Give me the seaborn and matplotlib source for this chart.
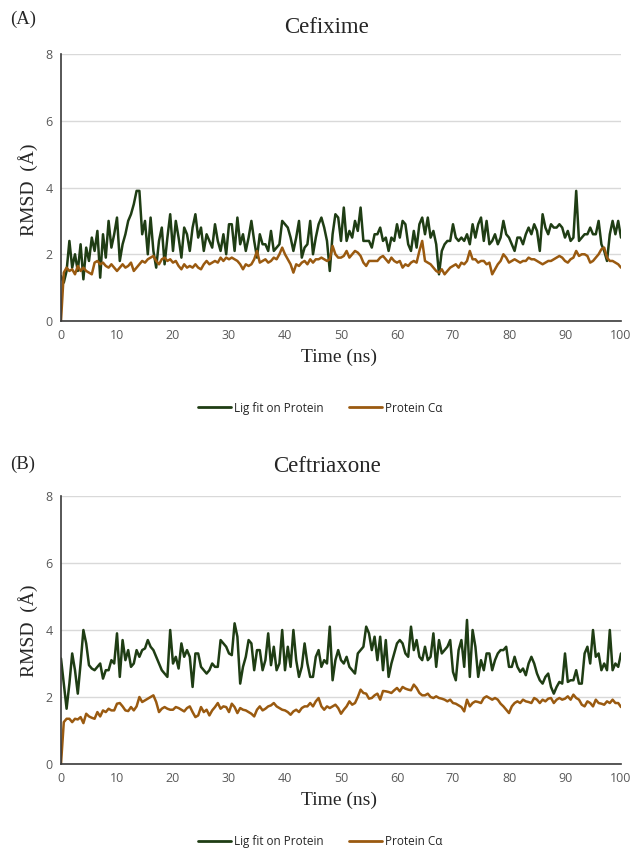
import numpy as np
import pandas as pd
import matplotlib
matplotlib.use("Agg")
import matplotlib.pyplot as plt
import seaborn as sns

# time axis: one sample every 0.5 ns
time_ns = np.arange(0, 100.5, 0.5)

# (A) Cefixime
cefixime_lig = [
    1.35, 1.15, 1.5, 2.4, 1.6, 2.0, 1.5, 2.3, 1.25, 2.2,
    1.8, 2.5, 2.1, 2.7, 1.3, 2.6, 1.9, 3.0, 2.2, 2.6,
    3.1, 1.8, 2.3, 2.6, 3.0, 3.2, 3.5, 3.9, 3.9, 2.6,
    3.0, 2.0, 3.1, 2.1, 1.6, 2.4, 2.8, 1.7, 2.5, 3.2,
    2.1, 3.0, 2.5, 1.9, 2.8, 2.6, 2.1, 2.8, 3.2, 2.5,
    2.8, 2.1, 2.6, 2.4, 2.2, 2.9, 2.4, 2.1, 2.6, 2.0,
    2.9, 2.9, 2.1, 3.1, 2.3, 2.6, 2.1, 2.5, 3.0, 2.4,
    1.9, 2.6, 2.3, 2.3, 2.1, 2.7, 2.1, 2.2, 2.3, 3.0,
    2.9, 2.8, 2.5, 2.1, 2.5, 3.0, 1.9, 2.2, 2.3, 3.0,
    2.0, 2.5, 2.9, 3.1, 2.8, 2.4, 1.5, 2.6, 3.2, 3.1,
    2.4, 3.4, 2.4, 2.7, 2.5, 3.0, 2.7, 3.4, 2.4, 2.4,
    2.4, 2.2, 2.6, 2.6, 2.8, 2.4, 2.5, 2.1, 2.5, 2.4,
    2.9, 2.5, 3.0, 2.9, 2.3, 2.1, 2.7, 2.2, 2.9, 3.1,
    2.6, 3.1, 2.5, 2.7, 2.3, 1.4, 2.1, 2.3, 2.4, 2.4,
    2.9, 2.5, 2.4, 2.5, 2.4, 2.6, 2.3, 2.9, 2.5, 2.9,
    3.1, 2.4, 3.0, 2.3, 2.4, 2.6, 2.3, 2.5, 3.0, 2.6,
    2.5, 2.3, 2.1, 2.5, 2.5, 2.3, 2.6, 2.8, 2.6, 2.9,
    2.7, 2.1, 3.2, 2.8, 2.6, 2.9, 2.8, 2.8, 2.9, 2.8,
    2.5, 2.7, 2.4, 2.5, 3.9, 2.4, 2.5, 2.6, 2.6, 2.8,
    2.6, 2.6, 3.0, 2.3, 2.1, 1.8, 2.6, 3.0, 2.6, 3.0,
    2.5,
]
cefixime_ca = [
    0.0, 1.45, 1.6, 1.5, 1.55, 1.4, 1.65, 1.5, 1.6, 1.5,
    1.45, 1.4, 1.75, 1.8, 1.7, 1.75, 1.65, 1.6, 1.7, 1.6,
    1.5, 1.6, 1.7, 1.6, 1.65, 1.75, 1.5, 1.6, 1.7, 1.8,
    1.75, 1.85, 1.9, 1.95, 1.8, 1.7, 1.85, 1.9, 1.8, 1.85,
    1.75, 1.8, 1.65, 1.55, 1.7, 1.6, 1.65, 1.6, 1.7, 1.6,
    1.55, 1.7, 1.8, 1.7, 1.75, 1.8, 1.75, 1.9, 1.8, 1.9,
    1.85, 1.9, 1.85, 1.8, 1.7, 1.55, 1.7, 1.65, 1.7, 1.85,
    2.1, 1.75, 1.8, 1.85, 1.75, 1.8, 1.9, 1.85, 2.0, 2.2,
    2.0, 1.85, 1.7, 1.45, 1.7, 1.65, 1.75, 1.8, 1.7, 1.85,
    1.75, 1.85, 1.85, 1.9, 1.85, 1.8, 1.85, 2.25, 2.0, 1.9,
    1.9, 1.95, 2.1, 1.9, 2.0, 2.1, 2.05, 1.95, 1.75, 1.65,
    1.8, 1.8, 1.8, 1.8, 1.9, 1.95, 1.85, 1.75, 1.9, 1.8,
    1.75, 1.8, 1.6, 1.7, 1.65, 1.75, 1.8, 1.75, 2.1, 2.4,
    1.8, 1.75, 1.7, 1.6, 1.5, 1.45, 1.55, 1.4, 1.5, 1.6,
    1.65, 1.7, 1.6, 1.75, 1.7, 1.8, 2.1, 1.85, 1.85, 1.75,
    1.8, 1.8, 1.7, 1.75, 1.4, 1.55, 1.7, 1.8, 2.0, 1.9,
    1.75, 1.8, 1.85, 1.8, 1.75, 1.8, 1.8, 1.9, 1.85, 1.85,
    1.8, 1.75, 1.7, 1.75, 1.8, 1.8, 1.85, 1.9, 1.95, 1.9,
    1.8, 1.75, 1.85, 1.9, 2.1, 1.95, 2.0, 2.0, 1.95, 1.75,
    1.8, 1.9, 2.0, 2.15, 2.2, 1.9, 1.8, 1.8, 1.75, 1.7,
    1.6,
]

# (B) Ceftriaxone
ceftriaxone_lig = [
    3.15, 2.4, 1.65, 2.4, 3.3, 2.8, 2.1, 3.0, 4.0, 3.6,
    2.95, 2.85, 2.8, 2.9, 3.0, 2.55, 2.8, 2.8, 3.1, 3.0,
    3.9, 2.6, 3.7, 3.1, 3.4, 2.9, 3.0, 3.4, 3.2, 3.4,
    3.45, 3.7, 3.5, 3.4, 3.2, 3.0, 2.8, 2.7, 2.6, 4.0,
    3.0, 3.2, 2.85, 3.6, 3.2, 3.4, 3.2, 2.3, 3.3, 3.3,
    2.9, 2.8, 2.7, 2.8, 3.0, 2.9, 2.9, 3.7, 3.6, 3.5,
    3.3, 3.25, 4.2, 3.8, 2.4, 2.9, 3.2, 3.7, 3.6, 2.8,
    3.4, 3.4, 2.8, 3.1, 3.9, 2.95, 3.5, 2.8, 3.0, 4.0,
    2.8, 3.5, 2.9, 4.0, 3.1, 2.6, 2.9, 3.6, 3.0, 2.6,
    2.6, 3.2, 3.4, 2.9, 3.1, 3.0, 4.1, 2.5, 3.1, 3.4,
    3.1, 3.0, 3.2, 2.9, 2.8, 2.7, 3.3, 3.4, 3.5, 4.1,
    3.9, 3.4, 3.8, 3.1, 3.8, 2.8, 3.7, 2.6, 3.0, 3.3,
    3.6, 3.7, 3.6, 3.3, 3.2, 4.1, 3.4, 3.7, 3.2, 3.1,
    3.5, 3.1, 3.2, 3.9, 2.9, 3.7, 3.3, 3.4, 3.5, 3.7,
    2.75, 2.5, 3.4, 3.7, 2.9, 4.3, 2.6, 4.0, 3.5, 2.6,
    3.1, 2.8, 3.3, 3.3, 2.8, 3.1, 3.3, 3.4, 3.4, 3.5,
    2.9, 2.9, 3.2, 2.9, 2.75, 2.85, 2.65, 3.0, 3.2, 3.0,
    2.7, 2.5, 2.4, 2.6, 2.7, 2.3, 2.1, 2.3, 2.45, 2.4,
    3.3, 2.45, 2.5, 2.5, 2.8, 2.4, 2.4, 3.3, 3.5, 3.0,
    4.0, 3.2, 3.3, 2.8, 3.0, 2.8, 4.0, 2.8, 3.0, 2.9,
    3.3,
]
ceftriaxone_ca = [
    0.0, 1.25, 1.35, 1.35, 1.25, 1.35, 1.33, 1.4, 1.22, 1.5,
    1.42, 1.38, 1.35, 1.55, 1.42, 1.6, 1.55, 1.65, 1.6, 1.6,
    1.8, 1.82, 1.72, 1.6, 1.58, 1.7, 1.6, 1.72, 2.0, 1.85,
    1.9, 1.95, 2.0, 2.05, 1.85, 1.55, 1.65, 1.7, 1.65, 1.62,
    1.62, 1.7, 1.67, 1.62, 1.57, 1.67, 1.72, 1.55, 1.4, 1.45,
    1.7, 1.55, 1.62, 1.45, 1.6, 1.7, 1.82, 1.65, 1.72, 1.7,
    1.55, 1.8, 1.7, 1.52, 1.67, 1.62, 1.6, 1.55, 1.5, 1.42,
    1.62, 1.72, 1.6, 1.65, 1.72, 1.75, 1.82, 1.72, 1.67, 1.62,
    1.6, 1.55, 1.47, 1.57, 1.62, 1.55, 1.67, 1.72, 1.72, 1.82,
    1.72, 1.87, 1.97, 1.72, 1.62, 1.72, 1.67, 1.72, 1.77, 1.67,
    1.5, 1.62, 1.72, 1.87, 1.77, 1.82, 2.0, 2.22, 2.12, 2.1,
    1.95, 1.97, 2.05, 2.1, 1.92, 2.18, 2.17, 2.15, 2.12, 2.2,
    2.27, 2.17, 2.3, 2.25, 2.22, 2.2, 2.37, 2.27, 2.12, 2.05,
    2.05, 2.1, 2.0, 1.97, 2.02, 1.97, 1.95, 1.92, 1.87, 1.92,
    1.82, 1.8, 1.75, 1.7, 1.57, 1.92, 1.72, 1.82, 1.87, 1.85,
    1.82, 1.97, 2.02, 1.97, 1.92, 1.97, 1.92, 1.8, 1.72, 1.62,
    1.52, 1.72, 1.82, 1.87, 1.82, 1.92, 1.87, 1.85, 1.82, 1.97,
    1.92, 1.82, 1.92, 1.87, 1.95, 1.97, 1.82, 1.92, 1.97, 1.92,
    1.95, 2.02, 1.92, 2.07, 1.97, 1.92, 1.77, 1.72, 1.87, 1.82,
    1.72, 1.92, 1.82, 1.8, 1.77, 1.87, 1.82, 1.92, 1.82, 1.82,
    1.7,
]

panels = [
    ("(A)", "Cefixime", cefixime_lig, cefixime_ca),
    ("(B)", "Ceftriaxone", ceftriaxone_lig, ceftriaxone_ca),
]
series_names = ["Lig fit on Protein", "Protein C\u03b1"]
colors = {"Lig fit on Protein": "#1f3d14", "Protein C\u03b1": "#9a5a10"}

sns.set_style("white")
plt.rcParams["font.family"] = ["Liberation Serif", "DejaVu Serif"]
tick_font = ["Open Sans", "DejaVu Sans"]

fig = plt.figure(figsize=(6.34, 8.52), dpi=100)

# axes boxes in figure fractions (left, bottom, width, height)
boxes = [
    (0.0962, 0.6232, 0.8833, 0.3134),
    (0.0962, 0.1033, 0.8833, 0.3145),
]
label_y = [(0.977, 0.968, 0.777, 0.580, 0.521),
           (0.455, 0.452, 0.260, 0.061, 0.012)]

for (tag, title, lig, ca), box, ly in zip(panels, boxes, label_y):
    ax = fig.add_axes(box)
    df = pd.DataFrame({
        "Time": np.concatenate([time_ns, time_ns]),
        "RMSD": np.concatenate([lig, ca]),
        "Series": [series_names[0]] * len(time_ns) + [series_names[1]] * len(time_ns),
    })
    sns.lineplot(data=df, x="Time", y="RMSD", hue="Series", palette=colors,
                 hue_order=series_names, linewidth=1.8, ax=ax, legend=False)

    ax.set_xlim(0, 100)
    ax.set_ylim(0, 8)
    ax.set_xticks(range(0, 101, 10))
    ax.set_yticks(range(0, 9, 2))
    ax.yaxis.grid(True, color="#d9d9d9", linewidth=1.0)
    ax.set_axisbelow(True)
    for s in ["top", "right"]:
        ax.spines[s].set_visible(False)
    ax.spines["left"].set_color("#3a3a3a")
    ax.spines["bottom"].set_color("#3a3a3a")
    ax.spines["left"].set_linewidth(1.2)
    ax.spines["bottom"].set_linewidth(1.2)
    ax.tick_params(length=0, labelsize=9, labelcolor="#595959", pad=6)
    for lab in ax.get_xticklabels() + ax.get_yticklabels():
        lab.set_family(tick_font)
    ax.set_xlabel("")
    ax.set_ylabel("")

    fig.text(0.016, ly[0], tag, fontsize=13.5, ha="left", va="center")
    fig.text(0.515, ly[1], title, fontsize=16.5, ha="center", va="center")
    fig.text(0.044, ly[2], "RMSD  (\u00c5)", fontsize=14, rotation=90,
             ha="center", va="center")
    fig.text(0.535, ly[3], "Time (ns)", fontsize=14, ha="center", va="center")

    handles = [plt.Line2D([], [], color=colors[n], linewidth=2) for n in series_names]
    fig.legend(handles, series_names, loc="center", ncol=2,
               bbox_to_anchor=(0.505, ly[4]), frameon=False,
               prop={"family": tick_font, "size": 8.5}, handlelength=2.8,
               handletextpad=0.2, columnspacing=2.2)

fig.savefig("out.png", dpi=100)
